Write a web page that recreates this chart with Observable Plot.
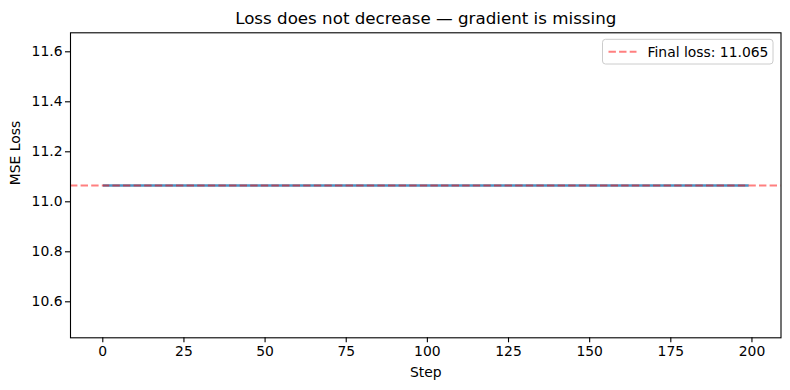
<!DOCTYPE html>
<html>
<head>
<meta charset="utf-8">
<script src="https://cdn.jsdelivr.net/npm/d3@7"></script>
<script src="https://cdn.jsdelivr.net/npm/@observablehq/plot@0.6"></script>
<style>
  html, body { margin: 0; padding: 0; background: white; }
</style>
</head>
<body>
<div id="chart"></div>
<script>
// ---- data ----
const titleText = "Loss does not decrease — gradient is missing";
const xLabel = "Step";
const yLabel = "MSE Loss";
const finalLoss = 11.065;
const legendLabel = "Final loss: 11.065";
const steps = d3.range(0, 200);                  // steps 0..199
const losses = steps.map(() => 11.065);          // loss stays flat at 11.065
const xTicks = [0, 25, 50, 75, 100, 125, 150, 175, 200];
const yTicks = [10.6, 10.8, 11.0, 11.2, 11.4, 11.6];

const data = steps.map((s, i) => ({step: s, loss: losses[i]}));

const W = 790, H = 390;
const mL = 70, mR = 9.5, mT = 32.3, mB = 52.7;
const font = "DejaVu Sans, sans-serif";
const fs = 13.9;
const dash = "7.4,3.2";

const plot = Plot.plot({
  width: W, height: H,
  marginLeft: mL, marginRight: mR, marginTop: mT, marginBottom: mB,
  style: {fontFamily: font, fontSize: fs + "px", color: "black", background: "white"},
  x: {domain: [-9.95, 208.95], label: null},
  y: {domain: [10.456, 11.676], label: null},
  marks: [
    Plot.axisX({ticks: xTicks, tickSize: 5, tickPadding: 3, label: null, stroke: "black", strokeWidth: 1.1, strokeOpacity: 1}),
    Plot.axisY({ticks: yTicks, tickFormat: d3.format(".1f"), tickSize: 5, tickPadding: 3, label: null, stroke: "black", strokeWidth: 1.1, strokeOpacity: 1}),
    Plot.line(data, {x: "step", y: "loss", stroke: "#1f77b4", strokeWidth: 2.6, strokeOpacity: 0.8, strokeLinecap: "butt"}),
    Plot.ruleY([finalLoss], {stroke: "red", strokeOpacity: 0.5, strokeWidth: 2, strokeDasharray: dash}),
    Plot.frame({stroke: "black", strokeWidth: 1.1}),
    Plot.text([titleText], {frameAnchor: "top", dy: -14.5, fontSize: 16.7, fill: "black", lineAnchor: "middle"}),
    Plot.text([xLabel], {frameAnchor: "bottom", dy: 35, fontSize: fs, fill: "black", lineAnchor: "middle"}),
    Plot.text([yLabel], {frameAnchor: "left", dx: -55, rotate: -90, fontSize: fs, fill: "black", lineAnchor: "middle"})
  ]
});

document.getElementById("chart").appendChild(plot);

// ---- legend (upper right, inside the axes) ----
const svg = d3.select(plot);
const bx1 = W - mR - 7.5, bx0 = bx1 - 170.5;
const by0 = mT + 7, by1 = by0 + 24.7;
const g = svg.append("g");
g.append("rect")
  .attr("x", bx0).attr("y", by0).attr("width", bx1 - bx0).attr("height", by1 - by0)
  .attr("rx", 3).attr("fill", "white").attr("fill-opacity", 0.8)
  .attr("stroke", "#cccccc").attr("stroke-width", 1);
const ly = (by0 + by1) / 2;
g.append("line")
  .attr("x1", bx0 + 6).attr("x2", bx0 + 34).attr("y1", ly).attr("y2", ly)
  .attr("stroke", "red").attr("stroke-opacity", 0.5).attr("stroke-width", 2)
  .attr("stroke-dasharray", dash);
g.append("text")
  .attr("x", bx0 + 45).attr("y", ly).attr("dy", "0.35em")
  .attr("text-anchor", "start")
  .attr("font-family", font).attr("font-size", fs).attr("fill", "black")
  .text(legendLabel);
</script>
</body>
</html>
